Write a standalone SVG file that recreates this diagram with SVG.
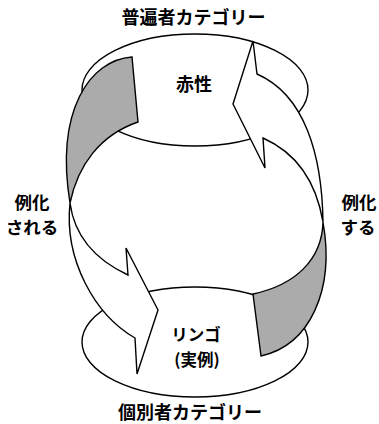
<svg xmlns="http://www.w3.org/2000/svg" width="379" height="424" viewBox="0 0 379 424">
<style>
.edge{fill:#fff;stroke:#000;stroke-width:1.4;stroke-linejoin:miter}
.shade{fill:#ababab;stroke:#000;stroke-width:1.4;stroke-linejoin:miter}
.oval{fill:#fff;stroke:#000;stroke-width:1.4}
text{font-family:"Noto Sans CJK JP","Noto Sans CJK SC",sans-serif;font-weight:bold;fill:#000;text-anchor:middle}
.t{font-size:18px}
.l{font-size:17.5px}
.s{font-size:16.5px}
</style>
<rect width="379" height="424" fill="#fff"/>
<g id="universal">
  <ellipse class="oval" cx="195" cy="90" rx="113" ry="56"/>
  <text class="t" x="193.5" y="24">普遍者カテゴリー</text>
  <text class="t" x="194" y="91">赤性</text>
</g>
<g id="individual">
  <ellipse class="oval" cx="195" cy="342" rx="113" ry="55"/>
  <text class="s" x="196" y="341">リンゴ</text>
  <text class="s" x="197" y="366">(実例)</text>
  <text class="t" x="190" y="419">個別者カテゴリー</text>
</g>
<g id="connectors">
  <g id="instantiated">
    <path class="shade" d="M132,57 C90,60 55,110 70,203 C78,165 100,135 138,122 Z"/>
    <path class="edge" d="M70,203 C64,260 95,315 135,338 L137,374 L158,310 L126,248 L128,275 C100,262 75,240 70,203 Z"/>
    <text class="l" x="32" y="209">例化</text>
    <text class="l" x="32" y="234">される</text>
  </g>
  <g id="instantiates">
    <path class="edge" d="M323,222 C322,155 305,95 257,74 L253,41 L233,104 L265,168 L263,138 C290,150 315,175 323,222 Z"/>
    <path class="shade" d="M323,222 C322,260 295,285 253,294 L261,356 C310,345 335,290 323,222 Z"/>
    <text class="l" x="359" y="209">例化</text>
    <text class="l" x="358" y="234">する</text>
  </g>
</g>
</svg>
